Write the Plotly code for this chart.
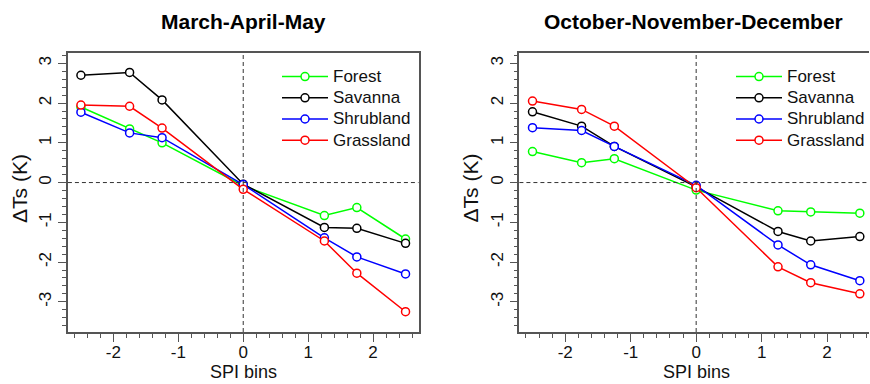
import plotly.graph_objects as go

spi_bins = [-2.5, -1.75, -1.25, 0, 1.25, 1.75, 2.5]
series_names = ["Forest", "Savanna", "Shrubland", "Grassland"]
series_colors = ["#00FF00", "#000000", "#0000FF", "#FF0000"]

# March-April-May
mam_forest = [1.90, 1.35, 1.00, -0.08, -0.83, -0.63, -1.42]
mam_savanna = [2.70, 2.77, 2.08, -0.04, -1.13, -1.15, -1.53]
mam_shrubland = [1.77, 1.25, 1.13, -0.05, -1.39, -1.87, -2.30]
mam_grassland = [1.95, 1.92, 1.37, -0.17, -1.47, -2.28, -3.25]

# October-November-December
ond_forest = [0.78, 0.50, 0.60, -0.19, -0.71, -0.74, -0.77]
ond_savanna = [1.78, 1.42, 0.91, -0.11, -1.23, -1.47, -1.36]
ond_shrubland = [1.38, 1.31, 0.91, -0.07, -1.57, -2.07, -2.47]
ond_grassland = [2.05, 1.84, 1.42, -0.13, -2.12, -2.52, -2.80]

titles = ["March-April-May", "October-November-December"]
x_title = "SPI bins"
y_title = "ΔTs (K)"
x_tickvals = [-2, -1, 0, 1, 2]
x_ticktext = ["-2", "-1", "0", "1", "2"]
y_tickvals = [-3, -2, -1, 0, 1, 2, 3]
y_ticktext = ["-3", "-2", "-1", "0", "1", "2", "3"]

W, H = 870, 384
FONT = "Arial, Liberation Sans, sans-serif"
AXC = "#555555"

panels = [
    (titles[0], [mam_forest, mam_savanna, mam_shrubland, mam_grassland]),
    (titles[1], [ond_forest, ond_savanna, ond_shrubland, ond_grassland]),
]

fig = go.Figure()

def px_x(p):
    return p / W

def px_y(p):
    return 1 - p / H

xdomains = [[px_x(68), px_x(419)], [px_x(520), 1.0]]
xranges = [[-2.7, 2.7], [-2.7, 2.64]]
ydomain = [px_y(332), px_y(53)]
yrange = [-3.76, 3.26]
legend_x = [px_x(277), px_x(732)]
title_cx = [243.5, 694]
xlabel_cx = [243.5, 697]

for pi, (ttl, data) in enumerate(panels):
    xa = "x" if pi == 0 else "x2"
    ya = "y" if pi == 0 else "y2"
    lg = "legend" if pi == 0 else "legend2"
    for name, color, vals in zip(series_names, series_colors, data):
        fig.add_trace(go.Scatter(
            x=spi_bins, y=vals,
            name='<span style="font-size:17px">' + name + '</span>',
            mode="lines+markers",
            line=dict(color=color, width=1.5),
            marker=dict(symbol="circle", size=8, color="white",
                        line=dict(color=color, width=1.5)),
            xaxis=xa, yaxis=ya, legend=lg, showlegend=True,
        ))

axis_common = dict(
    showgrid=False, zeroline=False, showline=True, linecolor=AXC, linewidth=1.5,
    ticks="outside", ticklen=8, tickwidth=1, tickcolor=AXC,
    tickfont=dict(family=FONT, size=17, color="#111111"),
    minor=dict(ticks="outside", ticklen=4, tickwidth=1, tickcolor=AXC,
               dtick=0.2, tick0=0, showgrid=False),
)

layout = dict(
    width=W, height=H, margin=dict(l=0, r=0, t=0, b=0),
    plot_bgcolor="white", paper_bgcolor="white",
    font=dict(family=FONT, color="#111111"),
)

for pi in range(2):
    sfx = "" if pi == 0 else "2"
    layout["xaxis" + sfx] = dict(
        axis_common, domain=xdomains[pi], range=xranges[pi],
        tickvals=x_tickvals, ticktext=x_ticktext, mirror=True,
        anchor="y" + sfx, ticklabelstandoff=-4,
    )
    layout["yaxis" + sfx] = dict(
        axis_common, domain=ydomain, range=yrange,
        tickvals=y_tickvals, ticktext=y_ticktext, tickangle=-90,
        mirror=(pi == 0), anchor="x" + sfx,
    )
    layout["legend" + ("" if pi == 0 else "2")] = dict(
        x=legend_x[pi], y=px_y(61), xanchor="left", yanchor="top",
        bgcolor="rgba(0,0,0,0)", borderwidth=0,
        font=dict(family=FONT, size=14, color="#111111"),
        itemwidth=46, tracegroupgap=0,
    )

fig.update_layout(**layout)

shapes = []
annotations = []
for pi in range(2):
    sfx = "" if pi == 0 else "2"
    shapes.append(dict(type="line", xref="x" + sfx, yref="y" + sfx + " domain",
                       x0=0, x1=0, y0=0, y1=1,
                       line=dict(color="#333333", width=1, dash="4px,3px")))
    shapes.append(dict(type="line", xref="x" + sfx + " domain", yref="y" + sfx,
                       x0=0, x1=1, y0=0, y1=0,
                       line=dict(color="#333333", width=1, dash="4px,3px")))
    annotations.append(dict(text="<b>" + panels[pi][0] + "</b>", xref="paper", yref="paper",
                            x=px_x(title_cx[pi]), y=px_y(21), xanchor="center", yanchor="middle",
                            showarrow=False, font=dict(family=FONT, size=21, color="#000000")))
    annotations.append(dict(text=x_title, xref="paper", yref="paper",
                            x=px_x(xlabel_cx[pi]), y=px_y(372), xanchor="center", yanchor="middle",
                            showarrow=False, borderpad=0,
                            font=dict(family=FONT, size=18, color="#111111")))
    annotations.append(dict(text=y_title, xref="paper", yref="paper",
                            x=px_x(20 + (452 if pi == 1 else 0)), y=px_y(188),
                            xanchor="center", yanchor="middle", textangle=-90,
                            showarrow=False, font=dict(family=FONT, size=21, color="#111111")))

fig.update_layout(shapes=shapes, annotations=annotations)
fig.write_html("out.html")
